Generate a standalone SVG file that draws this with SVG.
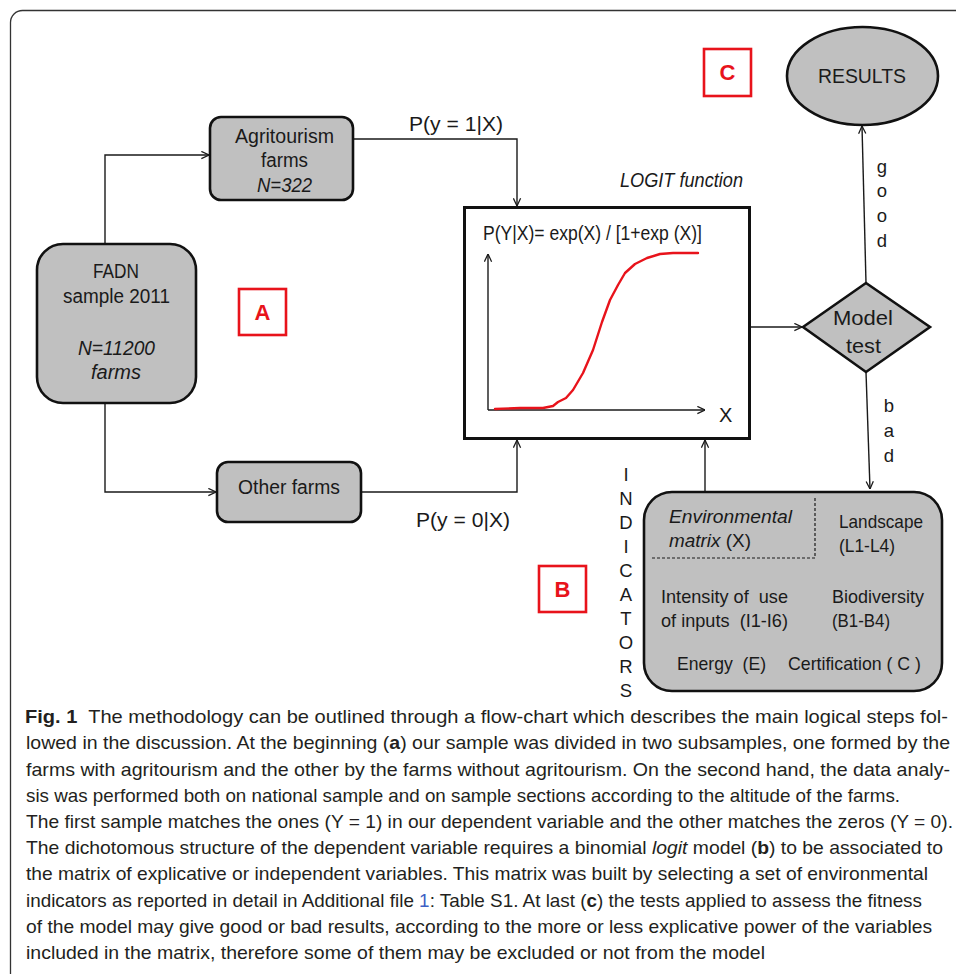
<svg xmlns="http://www.w3.org/2000/svg" width="956" height="974" viewBox="0 0 956 974">
<style>
.t{font-family:"Liberation Sans",Arial,sans-serif;fill:#1a1a1a;font-size:20px}
.i{font-style:italic}
.node{fill:#c0c0c0;stroke:#111;stroke-width:2.6}
.lab{fill:#fff;stroke:#e8131b;stroke-width:2.6}
.labt{font-family:"Liberation Sans",Arial,sans-serif;font-weight:bold;fill:#e8131b;font-size:22px;text-anchor:middle}
.c{fill:none;stroke:#1a1a1a;stroke-width:1.4}
.cap{font-family:"Liberation Sans",Arial,sans-serif;fill:#231f20;font-size:18.5px}
.b{font-weight:bold}
.lk{fill:#3d5fc4}
.v{font-size:18.5px;text-anchor:middle}
.s{font-size:19px}
</style>
<defs>
<marker id="ar" viewBox="0 0 10 10" refX="9.5" refY="5" markerWidth="9" markerHeight="9" markerUnits="userSpaceOnUse" orient="auto">
<path d="M1,1 L9.5,5 L1,9" fill="none" stroke="#1a1a1a" stroke-width="1.4"/>
</marker>
</defs>
<rect x="10.5" y="10.5" width="960" height="975" rx="12" fill="#fff" stroke="#333" stroke-width="1.3"/>

<g id="connectors">
<path class="c" d="M105,244 V155 H209" marker-end="url(#ar)"/>
<path class="c" d="M105,403 V492 H216" marker-end="url(#ar)"/>
<path class="c" d="M353,139 H517 V206" marker-end="url(#ar)"/>
<path class="c" d="M361,492 H517 V440" marker-end="url(#ar)"/>
<path class="c" d="M705,492 V440" marker-end="url(#ar)"/>
<path class="c" d="M750,327 H802" marker-end="url(#ar)"/>
<path class="c" d="M866,283 L862,126" marker-end="url(#ar)"/>
<path class="c" d="M866,372 L870,489" marker-end="url(#ar)"/>
</g>

<g id="agritourism">
<rect class="node" x="210" y="117" width="143" height="83" rx="11"/>
<text class="t" x="235" y="143" textLength="99" lengthAdjust="spacingAndGlyphs">Agritourism</text>
<text class="t" x="261" y="167" textLength="47" lengthAdjust="spacingAndGlyphs">farms</text>
<text class="t i" x="257" y="192" textLength="55" lengthAdjust="spacingAndGlyphs">N=322</text>
</g>

<g id="fadn">
<rect class="node" x="37" y="244" width="159" height="159" rx="26"/>
<text class="t" x="93" y="278" textLength="46" lengthAdjust="spacingAndGlyphs">FADN</text>
<text class="t" x="63" y="303" textLength="107" lengthAdjust="spacingAndGlyphs">sample 2011</text>
<text class="t i" x="78" y="355" textLength="77" lengthAdjust="spacingAndGlyphs">N=11200</text>
<text class="t i" x="91" y="379" textLength="50" lengthAdjust="spacingAndGlyphs">farms</text>
</g>

<g id="other">
<rect class="node" x="217" y="462" width="144" height="60" rx="11"/>
<text class="t" x="238" y="494" textLength="102" lengthAdjust="spacingAndGlyphs">Other farms</text>
</g>

<g id="labels-p">
<text class="t" x="409" y="131" textLength="94" lengthAdjust="spacingAndGlyphs">P(y = 1|X)</text>
<text class="t" x="416" y="527" textLength="94" lengthAdjust="spacingAndGlyphs">P(y = 0|X)</text>
</g>

<g id="labA"><rect class="lab" x="239" y="289" width="47" height="46"/><text class="labt" x="262.5" y="320">A</text></g>
<g id="labB"><rect class="lab" x="539" y="566" width="47" height="46"/><text class="labt" x="562.5" y="597">B</text></g>
<g id="labC"><rect class="lab" x="704" y="49" width="47" height="47"/><text class="labt" x="727.5" y="80">C</text></g>

<g id="logit">
<text class="t i" x="620" y="187" font-size="19" textLength="123" lengthAdjust="spacingAndGlyphs">LOGIT function</text>
<rect x="464.5" y="207.5" width="285" height="231" fill="#fff" stroke="#111" stroke-width="3"/>
<text class="t" x="483" y="240" font-size="17.5" textLength="219" lengthAdjust="spacingAndGlyphs">P(Y|X)= exp(X) / [1+exp (X)]</text>
<path d="M488,410 V254" fill="none" stroke="#1a1a1a" stroke-width="1.4" marker-end="url(#ar)"/>
<path d="M488,410 H705" fill="none" stroke="#1a1a1a" stroke-width="1.4" marker-end="url(#ar)"/>
<text class="t" x="719" y="422" font-size="21">X</text>
<path d="M495,409 L520,408 L543,408 L553,406 L558,402 L566,398 L573,390 L583,373 L593,350 L602,322 L610,300 L618,285 L625,273 L635,264 L647,258 L660,254 L673,253 L698,253" fill="none" stroke="#e8131b" stroke-width="2.4" stroke-linejoin="round" stroke-linecap="round"/>
</g>

<g id="modeltest">
<polygon class="node" points="803,327 866,283 930,327 866,372"/>
<text class="t" x="833" y="325" font-size="22" textLength="60" lengthAdjust="spacingAndGlyphs">Model</text>
<text class="t" x="846" y="353" font-size="22" textLength="35" lengthAdjust="spacingAndGlyphs">test</text>
</g>

<g id="results">
<ellipse class="node" cx="862.5" cy="76" rx="75.5" ry="49"/>
<text class="t" x="818" y="83" font-size="25" textLength="88" lengthAdjust="spacingAndGlyphs">RESULTS</text>
</g>

<g id="good-bad">
<text class="t v"><tspan x="882" y="173">g</tspan><tspan x="882" y="197">o</tspan><tspan x="882" y="222">o</tspan><tspan x="882" y="247">d</tspan></text>
<text class="t v"><tspan x="889" y="412">b</tspan><tspan x="889" y="437">a</tspan><tspan x="889" y="462">d</tspan></text>
</g>

<g id="indicators-label">
<text class="t v" font-size="17.5"><tspan x="626" y="481">I</tspan><tspan x="626" y="505">N</tspan><tspan x="626" y="529">D</tspan><tspan x="626" y="553">I</tspan><tspan x="626" y="577">C</tspan><tspan x="626" y="601">A</tspan><tspan x="626" y="625">T</tspan><tspan x="626" y="649">O</tspan><tspan x="626" y="673">R</tspan><tspan x="626" y="697">S</tspan></text>
</g>

<g id="indicators">
<rect class="node" x="644" y="492" width="298" height="199" rx="28" stroke-width="2.8"/>
<path d="M652,558 H815 V498" fill="none" stroke="#1a1a1a" stroke-width="1.2" stroke-dasharray="3,2"/>
<text class="t i s" x="669" y="523" textLength="123" lengthAdjust="spacingAndGlyphs">Environmental</text>
<text class="t s" x="669" y="547" textLength="82" lengthAdjust="spacingAndGlyphs"><tspan class="i">matrix</tspan> (X)</text>
<text class="t s" x="839" y="528" textLength="84" lengthAdjust="spacingAndGlyphs">Landscape</text>
<text class="t s" x="839" y="552" textLength="56" lengthAdjust="spacingAndGlyphs">(L1-L4)</text>
<text class="t s" x="661" y="603" textLength="127" lengthAdjust="spacingAndGlyphs" xml:space="preserve">Intensity of  use</text>
<text class="t s" x="661" y="627" textLength="127" lengthAdjust="spacingAndGlyphs" xml:space="preserve">of inputs  (I1-I6)</text>
<text class="t s" x="832" y="603" textLength="92" lengthAdjust="spacingAndGlyphs">Biodiversity</text>
<text class="t s" x="832" y="627" textLength="58" lengthAdjust="spacingAndGlyphs">(B1-B4)</text>
<text class="t s" x="677" y="670" textLength="89" lengthAdjust="spacingAndGlyphs" xml:space="preserve">Energy  (E)</text>
<text class="t s" x="788" y="670" textLength="133" lengthAdjust="spacingAndGlyphs">Certification ( C )</text>
</g>

<g id="caption">
<text class="cap" x="25" y="723" textLength="923" lengthAdjust="spacingAndGlyphs" xml:space="preserve"><tspan class="b">Fig. 1</tspan>  The methodology can be outlined through a flow-chart which describes the main logical steps fol-</text>
<text class="cap" x="26" y="749" textLength="924" lengthAdjust="spacingAndGlyphs">lowed in the discussion. At the beginning (<tspan class="b">a</tspan>) our sample was divided in two subsamples, one formed by the</text>
<text class="cap" x="26" y="775.5" textLength="924" lengthAdjust="spacingAndGlyphs">farms with agritourism and the other by the farms without agritourism. On the second hand, the data analy-</text>
<text class="cap" x="26" y="801.5" textLength="874" lengthAdjust="spacingAndGlyphs">sis was performed both on national sample and on sample sections according to the altitude of the farms.</text>
<text class="cap" x="26" y="828" textLength="927" lengthAdjust="spacingAndGlyphs">The first sample matches the ones (Y = 1) in our dependent variable and the other matches the zeros (Y = 0).</text>
<text class="cap" x="26" y="854" textLength="917" lengthAdjust="spacingAndGlyphs">The dichotomous structure of the dependent variable requires a binomial <tspan class="i">logit</tspan> model (<tspan class="b">b</tspan>) to be associated to</text>
<text class="cap" x="26" y="880" textLength="902" lengthAdjust="spacingAndGlyphs">the matrix of explicative or independent variables. This matrix was built by selecting a set of environmental</text>
<text class="cap" x="26" y="906.5" textLength="896" lengthAdjust="spacingAndGlyphs">indicators as reported in detail in Additional file <tspan class="lk">1</tspan>: Table S1. At last (<tspan class="b">c</tspan>) the tests applied to assess the fitness</text>
<text class="cap" x="26" y="932.5" textLength="906" lengthAdjust="spacingAndGlyphs">of the model may give good or bad results, according to the more or less explicative power of the variables</text>
<text class="cap" x="26" y="959" textLength="739" lengthAdjust="spacingAndGlyphs">included in the matrix, therefore some of them may be excluded or not from the model</text>
</g>
</svg>
